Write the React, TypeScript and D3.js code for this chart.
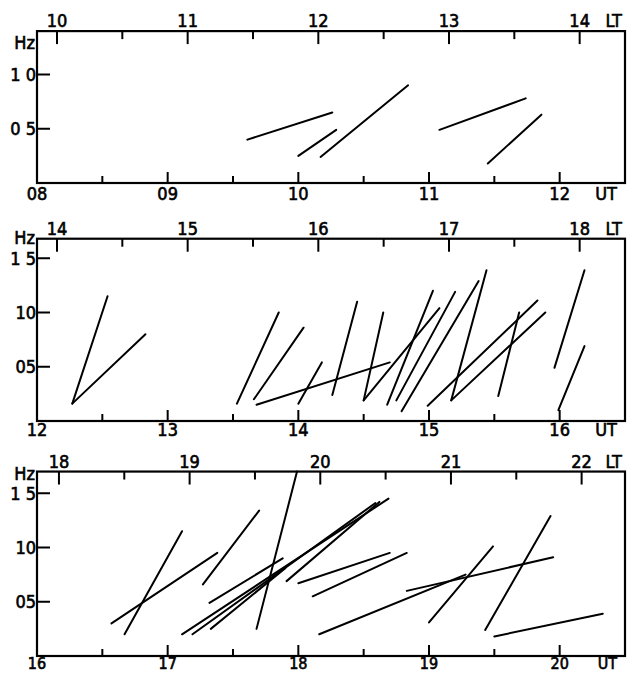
import React, { useEffect, useRef } from "react";
import * as d3 from "d3";

// three panels, each 4.5 h of UT
const utStarts = [8, 12, 16];
const ltOffsets = [1.847, 1.847, 1.832];
const freqMax = [1.4, 1.68, 1.7];
const freqTicks = [
    [0.5, 1.0],
    [0.5, 1.0, 1.5],
    [0.5, 1.0, 1.5],
];
const freqLabels = [
    ["0 5", "1 0"],
    ["05", "10", "1 5"],
    ["05", "10", "1 5"],
];

// each burst: [UT start, Hz start, UT end, Hz end]
const bursts1 = [
    [9.61, 0.4, 10.26, 0.65],
    [10.0, 0.25, 10.29, 0.49],
    [10.17, 0.24, 10.84, 0.9],
    [11.08, 0.49, 11.74, 0.78],
    [11.45, 0.18, 11.86, 0.63],
];

const bursts2 = [
    [12.27, 0.16, 12.54, 1.15],
    [12.27, 0.16, 12.83, 0.8],
    [13.53, 0.16, 13.85, 1.0],
    [13.66, 0.2, 14.04, 0.86],
    [13.68, 0.15, 14.7, 0.54],
    [14.0, 0.16, 14.18, 0.54],
    [14.26, 0.24, 14.45, 1.1],
    [14.5, 0.19, 14.65, 1.0],
    [14.5, 0.19, 15.08, 1.04],
    [14.68, 0.15, 15.03, 1.2],
    [14.75, 0.19, 15.2, 1.19],
    [14.79, 0.09, 15.38, 1.29],
    [14.99, 0.14, 15.83, 1.11],
    [15.17, 0.19, 15.44, 1.39],
    [15.17, 0.19, 15.89, 1.0],
    [15.53, 0.23, 15.69, 1.0],
    [15.96, 0.49, 16.19, 1.39],
    [15.99, 0.1, 16.19, 0.69],
];

const bursts3 = [
    [16.57, 0.3, 17.38, 0.95],
    [16.67, 0.2, 17.11, 1.15],
    [17.27, 0.66, 17.7, 1.34],
    [17.32, 0.49, 17.88, 0.9],
    [17.68, 0.25, 17.99, 1.7],
    [17.11, 0.2, 18.69, 1.45],
    [17.19, 0.2, 18.59, 1.41],
    [17.33, 0.25, 17.9, 0.81],
    [17.91, 0.69, 18.62, 1.42],
    [18.0, 0.67, 18.7, 0.95],
    [18.11, 0.55, 18.83, 0.95],
    [18.16, 0.2, 19.28, 0.75],
    [18.83, 0.6, 19.95, 0.91],
    [19.0, 0.31, 19.49, 1.01],
    [19.43, 0.24, 19.93, 1.29],
    [19.5, 0.18, 20.33, 0.39],
];

const allBursts = [bursts1, bursts2, bursts3];

const App = () => {
    const svgRef = useRef(null);

    useEffect(() => {
        const svg = d3.select(svgRef.current);
        svg.selectAll("*").remove();

        const width = 633;
        const height = 673;
        const left = 37;
        const right = 625;
        const pxPerHz = 108.5;
        const bottoms = [183, 421, 656];
        const hzDrop = [18, 5, 8];
        const utDrop = [17, 15, 13];
        const utSize = [18, 18, 16];
        const font = "'DejaVu Sans Condensed', 'DejaVu Sans', sans-serif";

        svg.attr("width", width).attr("height", height);

        utStarts.forEach((start, i) => {
            const g = svg.append("g");
            const x = d3.scaleLinear().domain([start, start + 4.5]).range([left, right]);
            const y = d3
                .scaleLinear()
                .domain([0, freqMax[i]])
                .range([bottoms[i], bottoms[i] - freqMax[i] * pxPerHz]);
            const top = y(freqMax[i]);
            const bottom = y(0);

            // frame
            g.append("rect")
                .attr("x", left)
                .attr("y", top)
                .attr("width", right - left)
                .attr("height", bottom - top)
                .attr("fill", "none")
                .attr("stroke", "#000")
                .attr("stroke-width", 2.2);

            // UT ticks along the bottom
            const utTicks = d3.range(start, start + 4.5 + 0.01, 0.5);
            g.selectAll(".ut")
                .data(utTicks)
                .join("line")
                .attr("x1", (d) => x(d))
                .attr("x2", (d) => x(d))
                .attr("y1", bottom)
                .attr("y2", (d) => bottom - (d % 1 === 0 ? 11 : 7))
                .attr("stroke", "#000")
                .attr("stroke-width", 2);

            // LT ticks along the top
            const off = ltOffsets[i];
            const ltTicks = d3
                .range(Math.ceil((start + off) * 2) / 2, start + 4.5 + off, 0.5)
                .filter((d) => x(d - off) < right - 4);
            g.selectAll(".lt")
                .data(ltTicks)
                .join("line")
                .attr("x1", (d) => x(d - off))
                .attr("x2", (d) => x(d - off))
                .attr("y1", top)
                .attr("y2", (d) => top + (d % 1 === 0 ? 13 : 8))
                .attr("stroke", "#000")
                .attr("stroke-width", 2);

            g.selectAll(".ltl")
                .data(ltTicks.filter((d) => d % 1 === 0))
                .join("text")
                .attr("x", (d) => x(d - off))
                .attr("y", top - 4)
                .attr("text-anchor", "middle")
                .text((d) => d);

            // frequency ticks
            g.selectAll(".hz")
                .data(freqTicks[i])
                .join("line")
                .attr("x1", left)
                .attr("x2", left + 13)
                .attr("y1", (d) => y(d))
                .attr("y2", (d) => y(d))
                .attr("stroke", "#000")
                .attr("stroke-width", 2);

            g.selectAll(".hzl")
                .data(freqTicks[i])
                .join("text")
                .attr("x", left - 1)
                .attr("y", (d) => y(d))
                .attr("dy", "0.36em")
                .attr("text-anchor", "end")
                .text((d, j) => freqLabels[i][j]);

            g.append("text")
                .attr("x", left - 2)
                .attr("y", top + hzDrop[i])
                .attr("text-anchor", "end")
                .text("Hz");

            g.append("text")
                .attr("x", right - 3)
                .attr("y", top - 4)
                .attr("text-anchor", "end")
                .text("LT");

            // bursts
            g.selectAll(".burst")
                .data(allBursts[i])
                .join("line")
                .attr("x1", (d) => x(d[0]))
                .attr("y1", (d) => y(d[1]))
                .attr("x2", (d) => x(d[2]))
                .attr("y2", (d) => y(d[3]))
                .attr("stroke", "#000")
                .attr("stroke-width", 2)
                .attr("stroke-linecap", "round");

            g.selectAll("text")
                .attr("font-size", 18);

            // UT labels (last panel runs into the bottom edge, so a bit smaller)
            g.selectAll(".utl")
                .data(utTicks.filter((d) => d % 1 === 0))
                .join("text")
                .attr("x", (d) => x(d))
                .attr("y", bottom + utDrop[i])
                .attr("text-anchor", "middle")
                .attr("font-size", utSize[i])
                .text((d) => d3.format("02d")(d));

            g.append("text")
                .attr("x", right - 8)
                .attr("y", bottom + utDrop[i])
                .attr("text-anchor", "end")
                .attr("font-size", utSize[i])
                .text("UT");

            g.selectAll("text")
                .attr("font-family", font)
                .attr("fill", "#000")
                .attr("stroke", "#000")
                .attr("stroke-width", 0.6);
        });
    }, []);

    return (
        <svg
            ref={svgRef}
            style={{ position: "absolute", left: 0, top: 0, background: "#fff" }}
        ></svg>
    );
};

export default App;
